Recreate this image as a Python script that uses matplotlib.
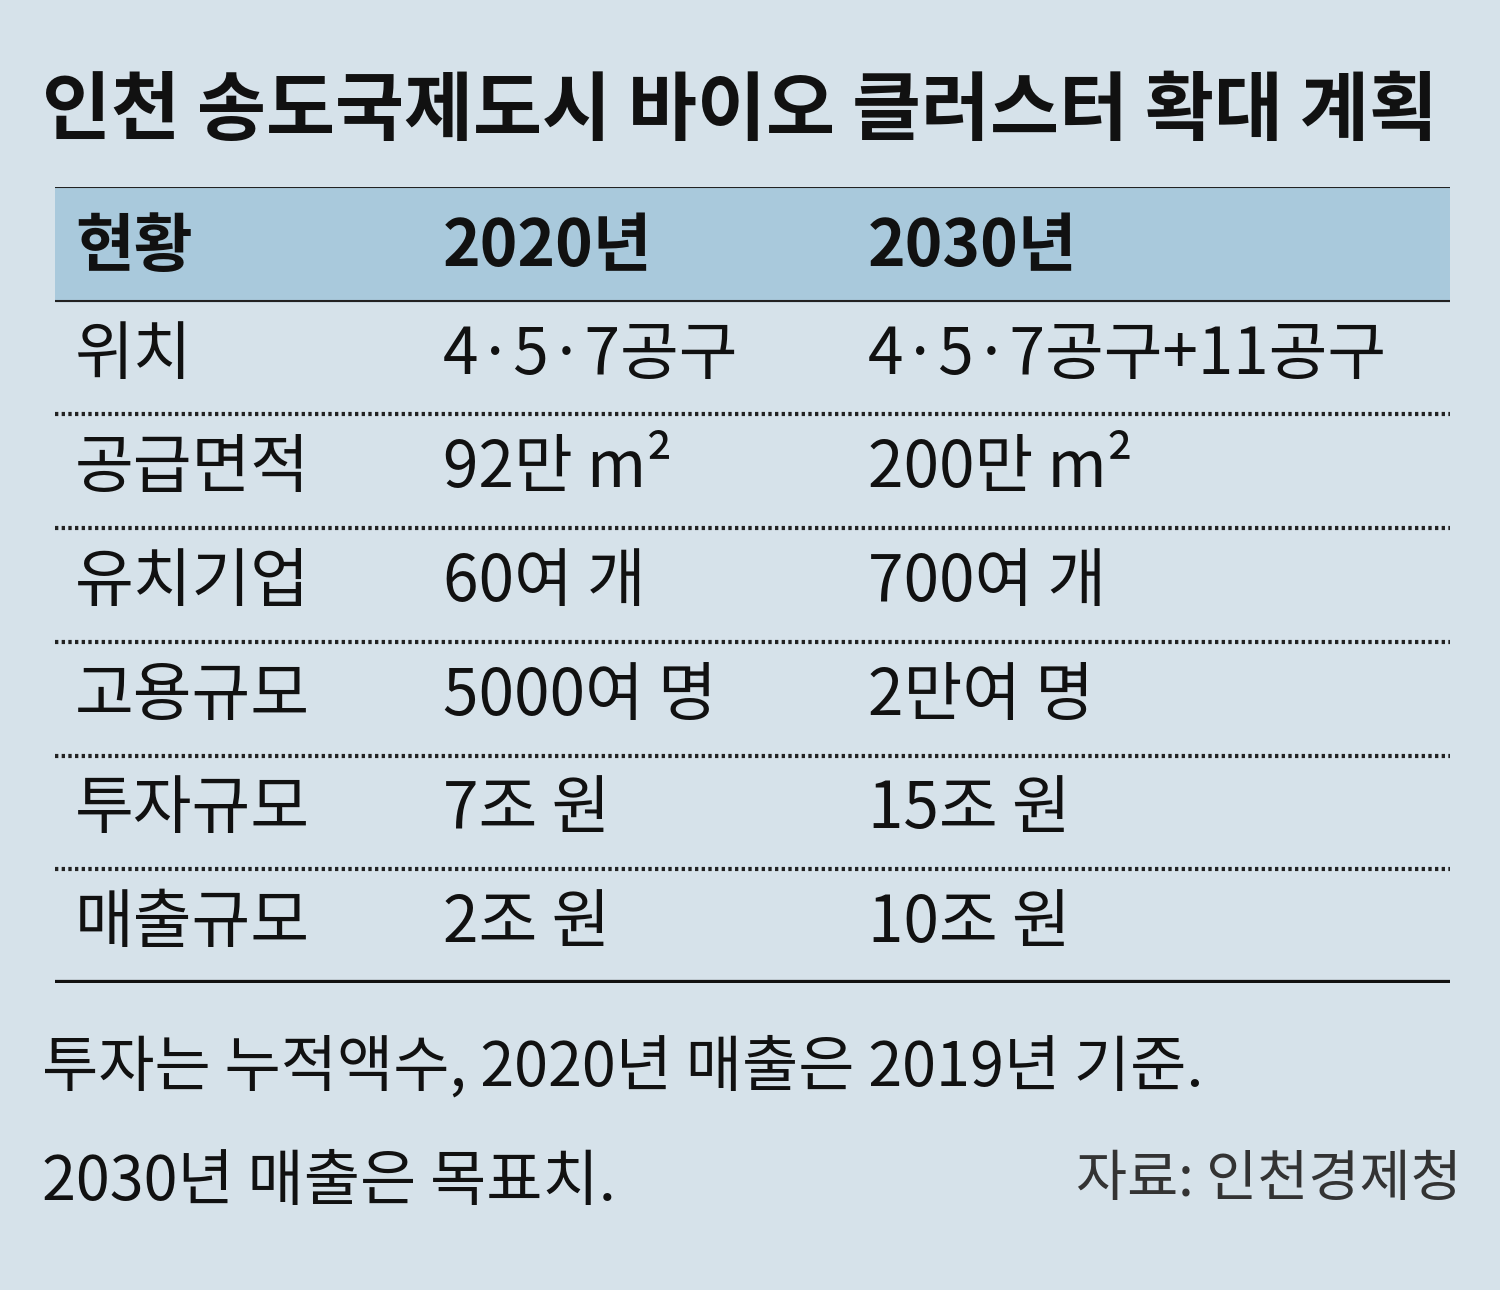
import matplotlib.pyplot as plt

plt.rcParams['font.family'] = ['Noto Sans CJK KR', 'DejaVu Sans']

title = "인천 송도국제도시 바이오 클러스터 확대 계획"
header = ["현황", "2020년", "2030년"]
row_labels = ["위치", "공급면적", "유치기업", "고용규모", "투자규모", "매출규모"]
vals_2020 = ["4·5·7공구", "92만 m²", "60여 개", "5000여 명", "7조 원", "2조 원"]
vals_2030 = ["4·5·7공구+11공구", "200만 m²", "700여 개", "2만여 명", "15조 원", "10조 원"]
note_lines = ["투자는 누적액수, 2020년 매출은 2019년 기준.", "2030년 매출은 목표치."]
source = "자료: 인천경제청"

BG = "#d6e2ea"
HEAD = "#a9c9dc"
W, H = 1500, 1290

fig = plt.figure(figsize=(W / 100, H / 100), dpi=100, facecolor=BG)

# title
fig.text(42 / W, 1 - 112 / H, title, fontsize=54, fontweight='bold',
         va='center', ha='left', color='#111111')

# table axes: left 55px, right 1450px, top 187px, bottom 983px
ax = fig.add_axes([55 / W, 1 - 983 / H, 1395 / W, 796 / H])
ax.set_facecolor(BG)
nrows = len(row_labels) + 1
ax.set_xlim(0, 1)
ax.set_ylim(nrows, 0)
ax.axis('off')

col_x = [20 / 1395, 388 / 1395, 813 / 1395]

# header band
ax.axhspan(0, 1, color=HEAD, zorder=0)
ax.axhline(0, color='#222222', lw=1.5)
ax.axhline(1, color='#222222', lw=1.5)
for x, h in zip(col_x, header):
    ax.text(x, 0.53, h, fontsize=46, fontweight='bold', va='center', ha='left',
            color='#111111')

rows = list(zip(row_labels, vals_2020, vals_2030))
for i, cells in enumerate(rows):
    yc = i + 1.48
    for x, c in zip(col_x, cells):
        ax.text(x, yc, c, fontsize=46, va='center', ha='left', color='#111111')
    if i < len(rows) - 1:
        ax.axhline(i + 2, color='#222222', lw=3, linestyle=(0, (0.8, 0.8)))
ax.axhline(nrows, color='#111111', lw=4.5)

# notes
fig.text(42 / W, 1 - 1068 / H, note_lines[0], fontsize=44, va='center',
         ha='left', color='#111111')
fig.text(42 / W, 1 - 1183 / H, note_lines[1], fontsize=44, va='center',
         ha='left', color='#111111')
fig.text(1462 / W, 1 - 1180 / H, source, fontsize=40, va='center',
         ha='right', color='#333333')

fig.savefig("out.png", dpi=100, facecolor=BG)
